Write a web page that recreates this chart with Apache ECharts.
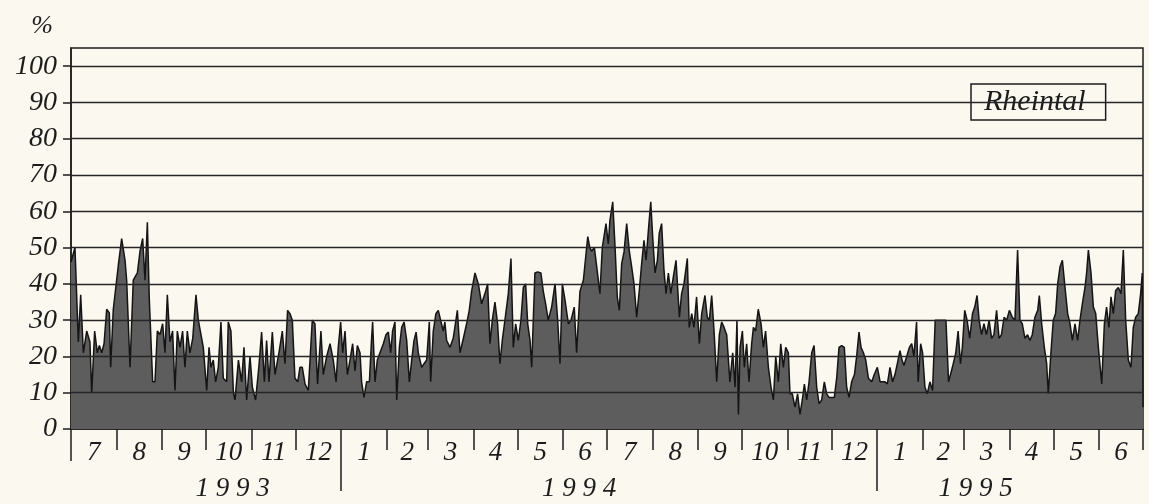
<!DOCTYPE html>
<html><head><meta charset="utf-8">
<script src="https://cdn.jsdelivr.net/npm/echarts@6/dist/echarts.min.js"></script>
<style>html,body{margin:0;padding:0;background:#fbf8f0;}#c{width:1149px;height:504px;}</style>
</head><body><div id="c"></div>
<script>
// days counted from 1 July 1993
const monthStarts = [0,31,62,92,123,153,184,215,243,274,304,335,365,396,427,457,488,518,549,580,608,639,669,700,730];
const monthNames = ['7','8','9','10','11','12','1','2','3','4','5','6','7','8','9','10','11','12','1','2','3','4','5','6'];
const yearBreaks = [184, 549];
const yearLabels = ['1 9 9 3', '1 9 9 4', '1 9 9 5'];
const yearLabelDays = [110, 346, 616];
const yTicks = [0,10,20,30,40,50,60,70,80,90,100];
const seriesName = 'Rheintal';

// [day, %] readings
const y1993 = [[0,46],[2.7,50],[5.0,24],[6.6,37],[8.4,21],[10.7,27],[12.9,24],[14.1,10],[16.1,27],[17.9,21],[19.3,23],[20.9,21],[22.5,23.5],[24.3,33],[26.1,32],[27.0,17],[28.8,33],[32.2,45],[34.5,52.5],[36.8,46.5],[37.9,41],[40.2,17],[42.4,41],[45.2,43],[47.0,49],[48.8,52.5],[50.4,41],[52.0,57],[53.3,36],[55.6,13],[57.2,13],[58.8,27],[60.6,26],[62.4,29],[64.0,21],[65.6,37],[67.4,24],[69.2,27],[70.8,10.6],[72.4,27],[74.2,22.5],[76.0,27],[77.6,17],[79.2,27],[81.0,21],[82.9,25],[85.1,37],[86.7,30],[90.1,22.5],[92.4,10.6],[94.0,22.5],[95.3,17],[96.9,19],[98.5,13],[100.3,17],[102.1,29.5],[103.7,14],[106.0,13],[107.1,29.5],[108.9,27],[110.6,10],[111.7,8],[114.0,19],[116.2,13],[117.8,22.5],[119.6,8],[121.9,20],[123.5,11.5],[125.7,8],[127.9,17],[129.8,26.7],[131.7,13],[133.2,24.4],[134.8,13],[137.1,26.7],[138.9,15],[141.6,21],[143.9,27],[145.7,18],[147.5,32.7],[149.1,31.8],[150.7,30],[152.5,14],[154.4,13],[155.9,17],[157.5,17],[159.4,12.4],[161.6,10.6],[164.3,30],[166.1,29],[167.9,12.4],[170.2,27],[171.8,15],[174.1,20],[176.4,23.5],[178.6,19],[180.5,13],[182.0,22.5],[183.6,29.5]];

const y1994 = [[185.0,21],[186.6,27],[188.2,15],[190.0,19],[191.8,23.5],[193.4,16],[195.0,23],[196.8,21],[197.9,13],[199.5,8.7],[201.3,13],[203.2,13],[204.7,25],[205.4,29.5],[207.0,13],[208.6,19],[210.4,21],[212.7,23.5],[214.5,26],[216.1,26.7],[217.7,21],[219.0,27],[220.6,29.5],[221.8,8],[223.6,22.5],[225.2,28],[226.8,29.5],[228.6,24.4],[230.4,13],[232.0,19],[233.6,24.4],[235.0,26.7],[236.5,21],[238.8,17],[240.4,18],[242.2,19],[244.0,29.5],[244.9,13],[246.7,27],[248.5,31.8],[250.1,32.7],[251.7,30],[253.5,27],[254.6,29.5],[255.8,24.4],[258.1,22.5],[260.3,25],[263.1,32.7],[264.9,21],[267.2,25],[269.4,29],[271.2,32.7],[272.8,38],[275.1,43],[277.4,40],[279.6,34.5],[282.4,38],[283.7,40],[285.3,23.5],[286.9,30],[288.7,35],[290.5,29],[292.1,18],[293.7,24.4],[295.5,30],[297.8,37.3],[299.6,47],[301.2,22.5],[302.8,29],[304.6,24.4],[306.4,30],[308.0,39],[309.6,40],[311.0,29],[312.6,24.4],[313.7,17],[315.9,43],[317.8,43.3],[320.0,43],[321.6,38],[323.2,34.5],[325.0,30],[327.3,33.6],[329.6,40],[331.4,30],[333.0,18],[334.6,40],[336.4,35.5],[338.7,29],[340.5,30],[342.7,33.6],[344.3,21],[346.6,38],[348.9,41],[350.0,41],[351.9,53],[353.3,50],[354.5,49],[356.4,50],[358.0,44.7],[360.2,37.3],[361.8,50],[364.3,56.6],
[365.9,51],[367.0,57.5],[368.9,62.6],[370.5,50],[372.0,36.4],[373.4,32.7],[375.0,45.6],[376.6,48.8],[378.4,56.6],[380.2,49],[381.8,44.7],[383.4,40],[385.2,30.8],[387.0,38.2],[388.6,45.6],[390.2,52],[391.6,46.5],[393.2,54.8],[394.8,62.6],[396.1,53],[397.7,43],[399.3,46.5],[400.6,54],[402.2,56.6],[403.8,43.7],[405.2,37.3],[406.8,43],[408.4,37.3],[410.2,42],[412.0,46.5],[413.1,46.5],[414.3,30.8],[415.8,37.3],[417.4,40],[419.7,47],[421.0,28],[422.7,31.8],[424.2,28],[426.0,36.4],[427.9,23.5],[429.5,31.8],[431.7,36.8],[433.3,30.8],[434.7,30],[436.3,36.8],[437.9,27],[439.7,13],[441.5,26],[443.1,29.5],[444.7,28],[446.5,26],[448.7,13],[450.6,21],[452.2,11.5],[453.5,30],[454.5,4],[455.6,22.5],[457.2,27],[458.5,17],[460.1,23.5],[461.7,13],[463.5,23.5],[464.7,28],[466.2,27],[468.0,33],[469.9,29],[471.5,22.5],[473.0,27],[474.9,17],[476.7,11.5],[478.3,8],[479.9,20],[481.7,13],[483.3,23.5],[485.1,17],[486.7,22.5],[488.5,21],[489.6,9.7],[491.2,9.7],[493.0,6],[494.8,9.7],[496.4,4],[498.0,8],[499.4,12.4],[501.0,8],[502.6,13],[504.4,21],[506.0,23],[507.8,11.5],[509.4,7],[511.2,8],[513.0,13],[514.6,9.7],[516.2,8.7],[518.0,8.7],[519.8,8.7],[521.4,14],[523.0,22.5],[524.8,23],[526.6,22.5],[528.2,11.5],[529.8,8.7],[531.6,13],[533.5,15],[535.0,20],[536.6,26.7],[538.0,22.5],[539.6,21],[541.2,19],[543.0,14],[545.3,13],[547.0,15]];

const y1995 = [[549.1,17],[551.0,13],[552.7,13],[554.3,13],[555.9,12.4],[557.7,17],[559.5,13],[561.1,15],[562.7,18],[564.5,21.6],[565.9,19],[567.2,17.5],[569.1,20],[570.9,22.5],[572.5,23.5],[574.0,20],[575.8,29.5],[576.9,13],[578.6,23.5],[579.9,21],[581.5,11.5],[583.1,9.7],[584.9,13],[586.7,10.6],[588.5,30],[590.6,30],[592.9,30],[595.8,30],[597.6,13],[600.2,17],[602.5,21],[604.1,27],[605.7,18],[607.0,22.5],[608.6,32.7],[610.2,30],[612.0,25],[613.9,31.8],[615.4,33.6],[617.0,36.8],[618.4,30],[620.1,26],[621.7,29],[623.4,26],[625.2,30],[626.9,25],[628.5,26],[630.3,32.7],[632.0,25],[633.6,26],[635.4,30.8],[637.2,30],[639.0,32.7],[641.0,30.8],[642.8,30],[644.6,49.3],[646.2,30],[647.8,29],[649.6,25],[651.4,26],[653.0,24.4],[654.6,26],[656.4,30.8],[658.3,32.7],[659.4,36.8],[661.0,29],[662.8,22.5],[664.4,18],[665.5,9.7],[667.3,21],[668.9,30],[670.5,31.8],[671.9,40],[673.5,44.7],[675.1,46.5],[676.9,39],[678.7,31.8],[680.3,29],[681.9,24.4],[683.7,29],[685.5,24.4],[687.1,30],[688.7,34.5],[690.5,39],[691.6,43],[692.8,49.3],[694.6,43],[696.2,33.6],[697.8,31.8],[699.6,22.5],[701.9,12.4],[703.7,29],[705.2,33.6],[706.8,28],[708.2,36.4],[709.8,31.8],[711.4,38.2],[713.2,39],[715.0,37.3],[716.6,49.3],[718.2,30],[720.0,19],[721.8,17],[723.4,28],[725.0,30.8],[726.8,31.8],[728.4,37.3],[729.5,43],[730,6]];

const monthMids = monthNames.map((m, i) => (monthStarts[i] + monthStarts[i + 1]) / 2);
const allData = y1993.concat(y1994, y1995);

const FONT = "'Liberation Serif', 'DejaVu Serif', serif";
const INK = '#1c1c1c';
const BG = '#fbf8f0';

const chart = echarts.init(document.getElementById('c'), null, {renderer: 'canvas'});
chart.setOption({
  animation: false,
  backgroundColor: BG,
  grid: {left: 71, right: 6, top: 48, bottom: 75, show: true, borderColor: INK, borderWidth: 1.5, backgroundColor: 'transparent'},
  legend: {
    data: [seriesName], left: 971, top: 84, icon: 'none', itemWidth: 0, itemHeight: 0, itemGap: 0,
    padding: [3, 20, 3, 8], borderColor: INK, borderWidth: 1.5, backgroundColor: BG,
    textStyle: {fontFamily: FONT, fontStyle: 'italic', fontSize: 30, lineHeight: 30, color: INK}
  },
  xAxis: [
    {
      type: 'value', min: 0, max: 730, position: 'bottom',
      axisLine: {show: true, lineStyle: {color: INK, width: 1.5}},
      axisTick: {show: true, customValues: monthStarts.slice(1, -1).filter(d => yearBreaks.indexOf(d) < 0).concat([730]), length: 21, lineStyle: {color: INK, width: 1.5}},
      axisLabel: {show: true, customValues: monthMids, margin: 10, fontFamily: FONT, fontStyle: 'italic', fontSize: 27, color: INK,
        formatter: v => monthNames[monthMids.indexOf(v)]},
      splitLine: {show: false}
    },
    {
      type: 'value', min: 0, max: 730, position: 'bottom',
      axisLine: {show: false},
      axisTick: {show: true, customValues: [0], length: 32, lineStyle: {color: INK, width: 1.5}},
      axisLabel: {show: false}, splitLine: {show: false}
    },
    {
      type: 'value', min: 0, max: 730, position: 'bottom',
      axisLine: {show: false},
      axisTick: {show: true, customValues: yearBreaks, length: 62, lineStyle: {color: INK, width: 1.5}},
      axisLabel: {show: true, customValues: yearLabelDays, margin: 46, fontFamily: FONT, fontStyle: 'italic', fontSize: 27, color: INK,
        formatter: v => yearLabels[yearLabelDays.indexOf(v)]},
      splitLine: {show: false}
    }
  ],
  yAxis: [{
    type: 'value', min: 0, max: 105,
    name: '%', nameLocation: 'end', nameGap: 9,
    nameTextStyle: {fontFamily: FONT, fontStyle: 'italic', fontSize: 26, color: INK, align: 'right', padding: [0, 18, 0, 0]},
    axisLine: {show: true, lineStyle: {color: INK, width: 1.5}},
    axisTick: {show: true, customValues: yTicks, length: 8, lineStyle: {color: INK, width: 1.5}},
    axisLabel: {show: true, customValues: yTicks, margin: 14, fontFamily: FONT, fontStyle: 'italic', fontSize: 28, color: INK},
    splitLine: {show: false}
  }],
  series: [{
    name: seriesName, type: 'line', xAxisIndex: 0, yAxisIndex: 0,
    data: allData, symbol: 'none', smooth: false,
    lineStyle: {color: '#141414', width: 1.5},
    areaStyle: {color: '#5d5d5d', opacity: 1},
    markLine: {
      silent: true, symbol: ['none', 'none'], label: {show: false},
      lineStyle: {color: '#262626', width: 1.4, type: 'solid'},
      data: yTicks.slice(1).map(v => ({yAxis: v}))
    }
  }]
});
</script></body></html>
